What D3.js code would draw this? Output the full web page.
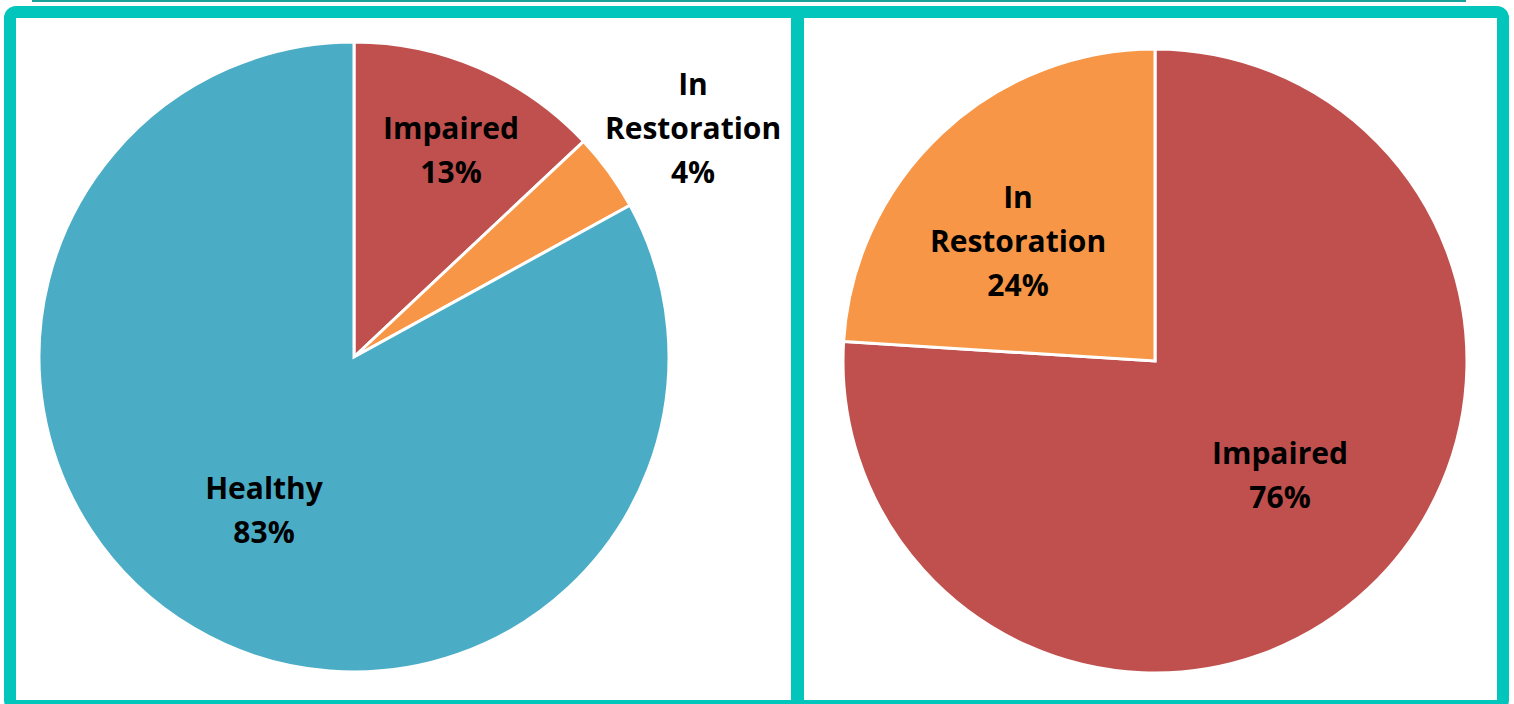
<!DOCTYPE html>
<html>
<head>
<meta charset="utf-8">
<script src="https://cdn.jsdelivr.net/npm/d3@7"></script>
<style>
  html, body { margin: 0; padding: 0; background: #ffffff; }
  svg { display: block; }
  text { font-family: "Open Sans", Lato, sans-serif; font-weight: 700; fill: #000; }
</style>
</head>
<body>
<svg id="chart" width="1514" height="704"></svg>
<script>
// Stream condition shares: all streams (left) and streams not rated healthy (right)
const leftCategories = ["Impaired", "In Restoration", "Healthy"];
const leftValues = [13, 4, 83];
const rightCategories = ["Impaired", "In Restoration"];
const rightValues = [76, 24];

const colorByCategory = {
  "Impaired": "#C0504D",
  "In Restoration": "#F79646",
  "Healthy": "#4BACC6"
};

// label text lines per category
const labelLines = {
  "Impaired": ["Impaired"],
  "In Restoration": ["In", "Restoration"],
  "Healthy": ["Healthy"]
};

const svg = d3.select("#chart");
const teal = "#02C6BB";

// thin rule above the frame
svg.append("rect")
  .attr("x", 32).attr("y", 0).attr("width", 1434).attr("height", 2)
  .attr("fill", "#17A398");

// frame panels
svg.append("rect")
  .attr("x", 10).attr("y", 12).attr("width", 1493).attr("height", 694)
  .attr("rx", 6).attr("ry", 6)
  .attr("fill", "#ffffff").attr("stroke", teal).attr("stroke-width", 12);
svg.append("rect")
  .attr("x", 791).attr("y", 12).attr("width", 13).attr("height", 694)
  .attr("fill", teal);

function drawPie(cx, cy, radius, categories, values, labelOffsets) {
  const data = categories.map((c, i) => ({ category: c, value: values[i] }));
  const pie = d3.pie().value(d => d.value).sort(null);
  const arc = d3.arc().innerRadius(0).outerRadius(radius);
  const g = svg.append("g").attr("transform", `translate(${cx},${cy})`);

  g.selectAll("path.slice")
    .data(pie(data))
    .join("path")
    .attr("class", "slice")
    .attr("d", arc)
    .attr("fill", d => colorByCategory[d.data.category])
    .attr("stroke", "#ffffff")
    .attr("stroke-width", 3)
    .attr("stroke-linejoin", "miter");

  const lineH = 44;
  g.selectAll("text.label")
    .data(pie(data))
    .join("text")
    .attr("class", "label")
    .attr("text-anchor", "middle")
    .attr("font-size", 30)
    .each(function (d, i) {
      const lines = labelLines[d.data.category].concat([d.data.value + "%"]);
      const [ox, oy] = labelOffsets[i];
      const top = oy - (lines.length - 1) * lineH / 2;
      const t = d3.select(this);
      lines.forEach((s, k) => {
        t.append("tspan")
          .attr("x", ox)
          .attr("y", top + k * lineH)
          .attr("dy", "0.35em")
          .text(s);
      });
    });
}

drawPie(354, 357, 315, leftCategories, leftValues,
  [[97, -207], [339, -229], [-90, 153]]);
drawPie(1155, 361, 312, rightCategories, rightValues,
  [[125, 114], [-137, -120]]);
</script>
</body>
</html>
